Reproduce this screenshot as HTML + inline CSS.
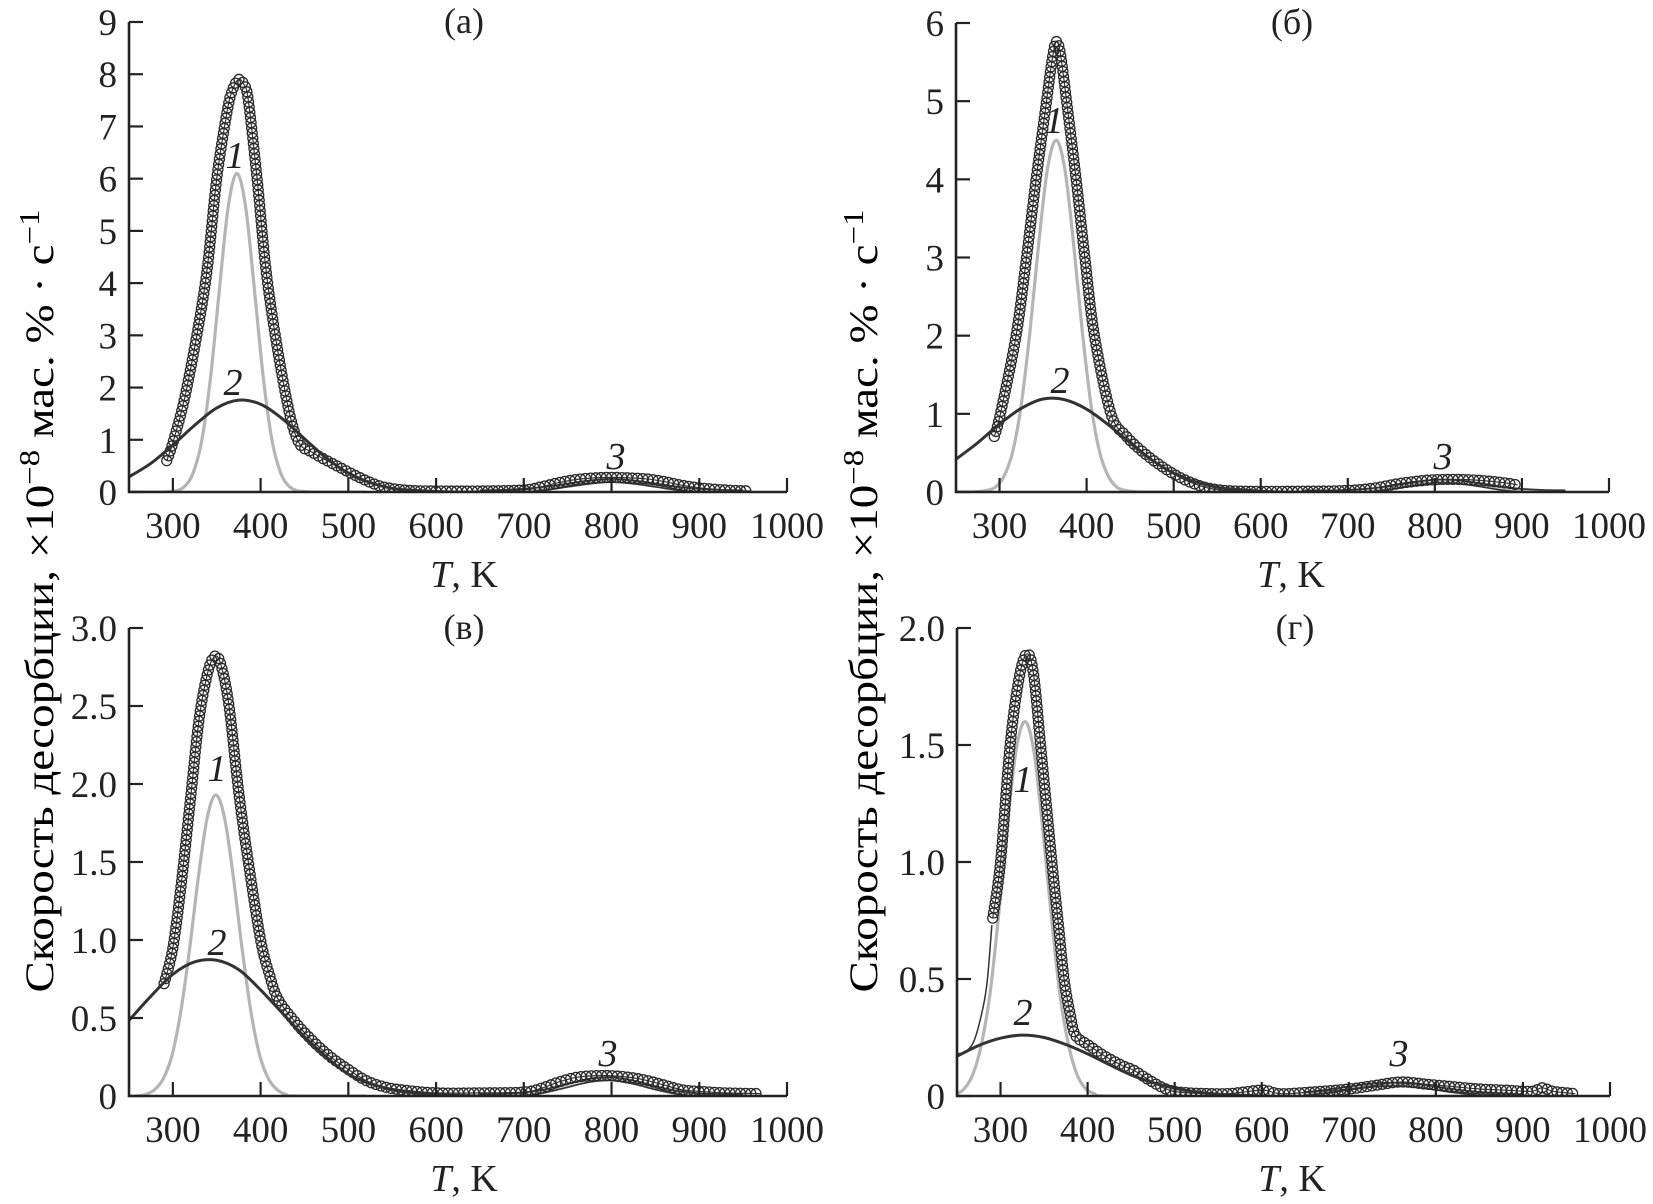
<!DOCTYPE html>
<html><head><meta charset="utf-8"><style>
html,body{margin:0;padding:0;background:#fff;}
svg{display:block;}
svg text{font-family:"Liberation Serif","Times New Roman","DejaVu Serif",serif;}
</style></head><body>
<svg id="chart" width="1653" height="1204" viewBox="0 0 1653 1204" xmlns="http://www.w3.org/2000/svg" font-family="Liberation Serif, DejaVu Serif, serif">
<text transform="translate(53,601) rotate(-90)" text-anchor="middle" font-size="40" textLength="783" lengthAdjust="spacingAndGlyphs">Скорость десорбции, ×10<tspan dy="-14" font-size="28">−8</tspan><tspan dy="14"> мас. % · с</tspan><tspan dy="-14" font-size="28">−1</tspan></text>
<text transform="translate(877,601) rotate(-90)" text-anchor="middle" font-size="40" textLength="783" lengthAdjust="spacingAndGlyphs">Скорость десорбции, ×10<tspan dy="-14" font-size="28">−8</tspan><tspan dy="14"> мас. % · с</tspan><tspan dy="-14" font-size="28">−1</tspan></text>
</svg>
<script>
// ---- Panel (а) data ----
const expA_T=[293,301,316,337,350,362,368,375,381,386,396,408,427,442,460,487,510,530,545,570,600,650,700,720,740,760,780,800,820,840,860,880,900,920,940,958];
const expA_V=[0.6,1.0,2.0,4.0,6.0,7.3,7.7,7.9,7.8,7.5,6.0,4.0,2.0,1.0,0.75,0.5,0.3,0.15,0.08,0.03,0.02,0.02,0.04,0.1,0.18,0.24,0.27,0.28,0.27,0.25,0.2,0.13,0.08,0.05,0.03,0.02];
const c1A_T=[250,283,293,303,313,323,333,343,353,363,373,383,393,403,413,423,433,443,453,463,520];
const c1A_V=[0,0,0.005,0.02,0.10,0.36,0.99,2.20,3.87,5.45,6.1,5.45,3.87,2.20,0.99,0.36,0.10,0.02,0.005,0,0];
const c2A_T=[250,275,300,325,350,375,400,425,450,475,500,525,550,575,600,625,650];
const c2A_V=[0.29,0.55,0.90,1.28,1.61,1.76,1.68,1.40,1.02,0.65,0.36,0.18,0.07,0.03,0.01,0,0];
const c3A_T=[650,675,700,725,750,775,800,825,850,875,900,925,950];
const c3A_V=[0.002,0.01,0.03,0.07,0.13,0.19,0.22,0.19,0.13,0.07,0.03,0.01,0.002];
// ---- Panel (б) data ----
const expB_T=[294,301,319,331,342,354,360,365,370,377,388,398,409,428,445,467,490,510,530,550,580,650,700,730,760,790,810,830,850,870,885,895];
const expB_V=[0.71,1.0,2.0,3.0,4.0,5.0,5.5,5.76,5.6,5.0,4.0,3.0,2.0,1.0,0.72,0.49,0.3,0.17,0.08,0.03,0.01,0.01,0.02,0.05,0.11,0.15,0.16,0.16,0.15,0.13,0.11,0.09];
const c1B_T=[250,265,275,285,295,305,315,325,335,345,355,365,375,385,395,405,415,425,435,445,455,465,520];
const c1B_V=[0,0,0.005,0.02,0.06,0.20,0.51,1.12,2.06,3.18,4.13,4.5,4.13,3.18,2.06,1.12,0.51,0.20,0.06,0.02,0.005,0,0];
const c2B_T=[250,275,300,325,350,375,400,425,450,475,500,525,550,575,600,625,650];
const c2B_V=[0.42,0.63,0.87,1.07,1.19,1.18,1.06,0.86,0.63,0.41,0.24,0.13,0.06,0.03,0.01,0,0];
const c3B_T=[650,675,700,725,750,775,800,825,850,875,900,925,950];
const c3B_V=[0,0,0.007,0.024,0.057,0.10,0.137,0.13,0.094,0.049,0.019,0.005,0];
// ---- Panel (в) data ----
const expC_T=[290,300,310,320,330,340,348,355,364,375,386,400,410,420,440,460,480,500,520,540,560,600,650,700,720,740,760,780,800,820,840,860,880,900,930,970];
const expC_V=[0.72,0.95,1.38,1.9,2.42,2.72,2.82,2.76,2.5,1.95,1.5,1.0,0.78,0.62,0.47,0.35,0.25,0.17,0.1,0.06,0.04,0.02,0.02,0.025,0.05,0.09,0.12,0.13,0.13,0.12,0.1,0.07,0.04,0.03,0.02,0.015];
const c1C_T=[250,259,269,279,289,299,309,319,329,339,349,359,369,379,389,399,409,419,429,439,520];
const c1C_V=[0,0,0.01,0.04,0.11,0.26,0.54,0.94,1.40,1.78,1.93,1.78,1.40,0.94,0.54,0.26,0.11,0.04,0.01,0,0];
const c2C_T=[250,275,300,325,350,375,400,425,450,475,500,525,550,575,600,625,650];
const c2C_V=[0.485,0.64,0.78,0.86,0.87,0.81,0.68,0.53,0.38,0.25,0.14,0.08,0.04,0.02,0.01,0.004,0];
const c3C_T=[650,675,700,725,750,775,800,825,850,875,900,925,950];
const c3C_V=[0,0.003,0.012,0.033,0.067,0.10,0.11,0.088,0.052,0.023,0.007,0.002,0];
// ---- Panel (г) data ----
const expD_T=[291,300,311,322,331,338,346,359,366,373,380,386,400,420,440,453,470,490,510,560,600,620,650,700,730,760,790,820,850,880,910,922,935,960];
const expD_V=[0.76,1.0,1.5,1.8,1.89,1.8,1.5,1.0,0.75,0.5,0.35,0.26,0.22,0.17,0.13,0.11,0.07,0.03,0.015,0.01,0.025,0.01,0.015,0.03,0.045,0.06,0.05,0.04,0.03,0.025,0.02,0.035,0.02,0.01];
const c1D_T=[250,258,268,278,288,298,308,318,328,338,348,358,368,378,388,398,408,418,520];
const c1D_V=[0.01,0.03,0.09,0.22,0.44,0.78,1.16,1.48,1.6,1.48,1.16,0.78,0.44,0.22,0.09,0.03,0.01,0,0];
const c2D_T=[250,275,300,325,350,375,400,425,450,475,500,525,550,575,600];
const c2D_V=[0.17,0.216,0.247,0.26,0.25,0.22,0.18,0.134,0.09,0.057,0.033,0.017,0.008,0.003,0];
const c3D_T=[650,675,700,725,750,775,800,825,850,875,900];
const c3D_V=[0.01,0.02,0.033,0.045,0.05,0.045,0.033,0.02,0.01,0.005,0];
const fitD_T=[250,260,270,280,285,290];
const fitD_V=[0.18,0.19,0.24,0.38,0.5,0.73];
// ---- tick labels ----
const xTicks=[300,400,500,600,700,800,900,1000];
const yTicksA=[0,1,2,3,4,5,6,7,8,9];
const yTicksB=[0,1,2,3,4,5,6];
const yTicksC=[0,0.5,1.0,1.5,2.0,2.5,3.0];
const yTicksD=[0,0.5,1.0,1.5,2.0];

const NS="http://www.w3.org/2000/svg";
const svg=document.getElementById('chart');
function mk(tag,attrs,parent){const e=document.createElementNS(NS,tag);for(const k in attrs)e.setAttribute(k,attrs[k]);(parent||svg).appendChild(e);return e;}
function smooth(pts){
  if(pts.length<2)return '';
  let d='M'+pts[0][0].toFixed(2)+','+pts[0][1].toFixed(2);
  for(let i=0;i<pts.length-1;i++){
    const p0=pts[i-1]||pts[i],p1=pts[i],p2=pts[i+1],p3=pts[i+2]||pts[i+1];
    const c1x=p1[0]+(p2[0]-p0[0])/6,c1y=p1[1]+(p2[1]-p0[1])/6;
    const c2x=p2[0]-(p3[0]-p1[0])/6,c2y=p2[1]-(p3[1]-p1[1])/6;
    d+=' C'+c1x.toFixed(2)+','+c1y.toFixed(2)+' '+c2x.toFixed(2)+','+c2y.toFixed(2)+' '+p2[0].toFixed(2)+','+p2[1].toFixed(2);
  }
  return d;
}
let clipN=0;
function panel(cfg){
  const X=t=>cfg.x0+(t-250)/750*(cfg.x1-cfg.x0);
  const Y=v=>cfg.y0-v/cfg.ymax*(cfg.y0-cfg.yTop);
  const g=mk('g',{});
  
  
  const cid='clip'+(clipN++);
  const cp=mk('clipPath',{id:cid},g);
  mk('rect',{x:cfg.x0,y:cfg.yTop-10,width:cfg.x1-cfg.x0+2,height:cfg.y0-cfg.yTop+10},cp);
  const plot=mk('g',{'clip-path':'url(#'+cid+')'},g);
  
  
  const pts=(T,V)=>T.map((t,i)=>[X(t),Y(V[i])]);
  const l1=mk('path',{d:smooth(pts(cfg.c1T,cfg.c1V)),fill:'none',stroke:'#b5b5b5','stroke-width':3.2},plot);
  
  
  const p3=smooth(pts(cfg.c3T,cfg.c3V));
  const l3a=mk('path',{d:p3,fill:'none',stroke:'#333','stroke-width':5},plot);
  
  
  mk('path',{d:p3,fill:'none',stroke:'#ccc','stroke-width':1.6},plot);
  const ep=mk('path',{d:smooth(pts(cfg.eT,cfg.eV)),fill:'none',stroke:'#333','stroke-width':1.2},plot);
  const L=ep.getTotalLength();
  const cg=mk('g',{},plot);
  
  
  for(let s=0;s<=L;s+=5.2){
    const p=ep.getPointAtLength(s);
    const c=mk('circle',{cx:p.x.toFixed(2),cy:p.y.toFixed(2),r:5,fill:'none',stroke:'#2a2a2a','stroke-width':1.3},cg);
    
    
  }
  if(cfg.fT){
    const lf=mk('path',{d:smooth(pts(cfg.fT,cfg.fV)),fill:'none',stroke:'#333','stroke-width':1.5},plot);
    
    
  }
  const l2=mk('path',{d:smooth(pts(cfg.c2T,cfg.c2V)),fill:'none',stroke:'#333','stroke-width':3},plot);
  
  
  const ax=mk('path',{d:'M'+cfg.x0+','+cfg.yTop+' L'+cfg.x0+','+cfg.y0+' L'+X(1000)+','+cfg.y0,fill:'none',stroke:'#222','stroke-width':2.6},g);
  
  
  xTicks.forEach(t=>{
    const tk=mk('line',{x1:X(t),x2:X(t),y1:cfg.y0,y2:cfg.y0-14,stroke:'#222','stroke-width':2.2},g);
    
    
    const tl=mk('text',{x:X(t),y:cfg.y0+46,'text-anchor':'middle','font-size':37,fill:'#222'},g);
    
    
    tl.textContent=String(t);
  });
  cfg.yt.forEach(v=>{
    const tk=mk('line',{x1:cfg.x0,x2:cfg.x0+14,y1:Y(v),y2:Y(v),stroke:'#222','stroke-width':2.2},g);
    
    
    const tl=mk('text',{x:cfg.x0-12,y:Y(v)+13,'text-anchor':'end','font-size':37,fill:'#222'},g);
    
    
    tl.textContent=(v===0)?'0':(cfg.dec?v.toFixed(1):String(v));
  });
  const xt=mk('text',{x:cfg.x0+335,y:cfg.y0+95,'text-anchor':'middle','font-size':38,fill:'#222'},g);
  
  
  xt.innerHTML='<tspan font-style="italic">T</tspan>, K';
  const pt=mk('text',{x:cfg.titleX,y:cfg.yTop+11,'text-anchor':'middle','font-size':36,fill:'#222'},g);
  
  
  pt.textContent=cfg.title;
  cfg.labels.forEach((lb,i)=>{
    const t=mk('text',{x:lb[0],y:lb[1]+13,'text-anchor':'middle','font-size':38,'font-style':'italic',fill:'#222'},g);
    
    
    t.textContent=String(i+1);
  });
}
panel({name:'panel-a',title:'(а)',titleX:464,x0:129,x1:787,y0:492,yTop:22,ymax:9,yt:yTicksA,dec:false,
  eT:expA_T,eV:expA_V,c1T:c1A_T,c1V:c1A_V,c2T:c2A_T,c2V:c2A_V,c3T:c3A_T,c3V:c3A_V,
  labels:[[235,155],[233,382],[616,456]]});
panel({name:'panel-b',title:'(б)',titleX:1292,x0:956,x1:1609,y0:492,yTop:23,ymax:6,yt:yTicksB,dec:false,
  eT:expB_T,eV:expB_V,c1T:c1B_T,c1V:c1B_V,c2T:c2B_T,c2V:c2B_V,c3T:c3B_T,c3V:c3B_V,
  labels:[[1054,120],[1060,380],[1443,456]]});
panel({name:'panel-c',title:'(в)',titleX:464,x0:129,x1:787,y0:1096,yTop:628,ymax:3,yt:yTicksC,dec:true,
  eT:expC_T,eV:expC_V,c1T:c1C_T,c1V:c1C_V,c2T:c2C_T,c2V:c2C_V,c3T:c3C_T,c3V:c3C_V,
  labels:[[217,768],[217,942],[608,1053]]});
panel({name:'panel-d',title:'(г)',titleX:1295,x0:957,x1:1610,y0:1096,yTop:628,ymax:2,yt:yTicksD,dec:true,
  eT:expD_T,eV:expD_V,c1T:c1D_T,c1V:c1D_V,c2T:c2D_T,c2V:c2D_V,c3T:c3D_T,c3V:c3D_V,fT:fitD_T,fV:fitD_V,
  labels:[[1023,779],[1023,1012],[1399,1053]]});
</script>
</body></html>
